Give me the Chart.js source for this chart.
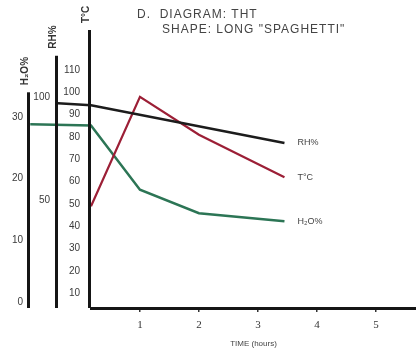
<!DOCTYPE html>
<html>
<head>
<meta charset="utf-8">
<script src="https://cdn.jsdelivr.net/npm/chart.js@4.4.1/dist/chart.umd.min.js"></script>
<style>
	html, body { margin:0; padding:0; background:#fff; }
	#wrap { width:416px; height:353px; }
</style>
</head>
<body>
<div id="wrap"><canvas id="thtChart" width="416" height="353"></canvas></div>
<script>
// time in hours
var timeTemp = [0.17, 1, 2, 3.45];
var tempC    = [49, 98, 81, 62];

var timeRH   = [-0.39, 0.17, 3.45];
var rhPct    = [97, 96, 77.7];

var timeH2O  = [-0.86, 0.17, 1, 2, 3.45];
var h2oPct   = [28.8, 28.6, 18.2, 14.4, 13.1];

var tempTicks = [10, 20, 30, 40, 50, 60, 70, 80, 90, 100, 110];
var rhTicks   = [50, 100];
var h2oTicks  = [0, 10, 20, 30];
var timeTicks = [1, 2, 3, 4, 5];

var seriesNames = ['RH%', 'T°C', 'H₂O%'];

function toPoints(xs, ys){
	var pts = [];
	for (var i = 0; i < xs.length; i++) {
		pts.push({x: xs[i], y: ys[i]});
	}
	return pts;
}

function fixedTicks(list){
	return function(scale){
		scale.ticks = list.map(function(v){ return {value: v}; });
	};
}

function fixedWidth(w){
	return function(scale){ scale.width = w; };
}

// axis lines that stop short, rotated axis names, line end labels, heading
var thtDecor = {
	id: 'thtDecor',
	afterDraw: function(chart){
		var ctx = chart.ctx;
		var area = chart.chartArea;
		var axes = [
			[chart.scales.yH2O, 34, 'H₂O%'],
			[chart.scales.yRH, 120, 'RH%'],
			[chart.scales.yT, chart.scales.yT.max, 'T°C']
		];
		ctx.save();
		axes.forEach(function(a){
			var s = a[0];
			var x = s.right - 1.5;
			var top = s.getPixelForValue(a[1]);
			ctx.strokeStyle = '#151515';
			ctx.lineWidth = 3;
			ctx.beginPath();
			ctx.moveTo(x, top);
			ctx.lineTo(x, area.bottom);
			ctx.stroke();

			ctx.save();
			ctx.translate(x - 3, top - 7);
			ctx.rotate(-Math.PI / 2);
			ctx.fillStyle = '#333';
			ctx.font = 'bold 10px "Liberation Sans"';
			ctx.textAlign = 'left';
			ctx.textBaseline = 'middle';
			ctx.fillText(a[2], 0, 0);
			ctx.restore();
		});

		ctx.fillStyle = '#444';
		ctx.font = '9px "Liberation Sans"';
		ctx.textAlign = 'left';
		ctx.textBaseline = 'middle';
		chart.data.datasets.forEach(function(ds, i){
			var pts = chart.getDatasetMeta(i).data;
			var last = pts[pts.length - 1];
			ctx.fillText(seriesNames[i], last.x + 13, last.y);
		});

		ctx.fillStyle = '#444';
		ctx.font = '12px "Liberation Sans"';
		ctx.letterSpacing = '1px';
		ctx.textBaseline = 'alphabetic';
		ctx.fillText('D.  DIAGRAM: THT', 137, 18);
		ctx.fillText('SHAPE: LONG "SPAGHETTI"', 162, 33);
		ctx.restore();
	}
};

var yTickFont = {family: 'Liberation Sans', size: 10};

new Chart(document.getElementById('thtChart'), {
	type: 'line',
	data: {
		datasets: [
			{
				label: seriesNames[0],
				data: toPoints(timeRH, rhPct),
				yAxisID: 'yRH',
				borderColor: '#1c1c1c',
				borderWidth: 2.5,
				pointRadius: 0,
				clip: false
			},
			{
				label: seriesNames[1],
				data: toPoints(timeTemp, tempC),
				yAxisID: 'yT',
				borderColor: '#9c1f36',
				borderWidth: 2.2,
				pointRadius: 0,
				clip: false
			},
			{
				label: seriesNames[2],
				data: toPoints(timeH2O, h2oPct),
				yAxisID: 'yH2O',
				borderColor: '#2c7555',
				borderWidth: 2.5,
				pointRadius: 0,
				clip: false
			}
		]
	},
	options: {
		responsive: false,
		animation: false,
		layout: { padding: {top: 30, left: 0, right: 0, bottom: 0} },
		plugins: {
			legend: { display: false },
			tooltip: { enabled: false }
		},
		scales: {
			x: {
				type: 'linear',
				position: 'bottom',
				min: 0.17,
				max: 5.68,
				afterBuildTicks: fixedTicks(timeTicks),
				afterFit: function(s){ s.height = 45; },
				grid: { display: true, drawOnChartArea: false, drawTicks: true, tickLength: 4, color: '#333', lineWidth: 1.5 },
				border: { display: true, color: '#151515', width: 3 },
				ticks: { padding: 7, color: '#333', font: {family: 'Liberation Serif', size: 11} },
				title: { display: true, text: 'TIME (hours)', color: '#444', font: {family: 'Liberation Sans', size: 8}, padding: {top: 2, bottom: 4} }
			},
			yT: {
				type: 'linear',
				position: 'left',
				weight: 1,
				min: 3.4,
				max: 127.9,
				afterBuildTicks: fixedTicks(tempTicks),
				afterFit: fixedWidth(33),
				grid: { display: false, drawTicks: false },
				border: { display: false },
				ticks: { padding: 11, color: '#3a3a3a', font: yTickFont }
			},
			yRH: {
				type: 'linear',
				position: 'left',
				weight: 2,
				min: -2.4,
				max: 132.5,
				afterBuildTicks: fixedTicks(rhTicks),
				afterFit: fixedWidth(28),
				grid: { display: false, drawTicks: false },
				border: { display: false },
				ticks: { padding: 8, color: '#3a3a3a', font: yTickFont }
			},
			yH2O: {
				type: 'linear',
				position: 'left',
				weight: 3,
				min: -0.97,
				max: 44.1,
				afterBuildTicks: fixedTicks(h2oTicks),
				afterFit: fixedWidth(30),
				grid: { display: false, drawTicks: false },
				border: { display: false },
				ticks: { padding: 7, color: '#3a3a3a', font: yTickFont }
			}
		}
	},
	plugins: [thtDecor]
});
</script>
</body>
</html>
